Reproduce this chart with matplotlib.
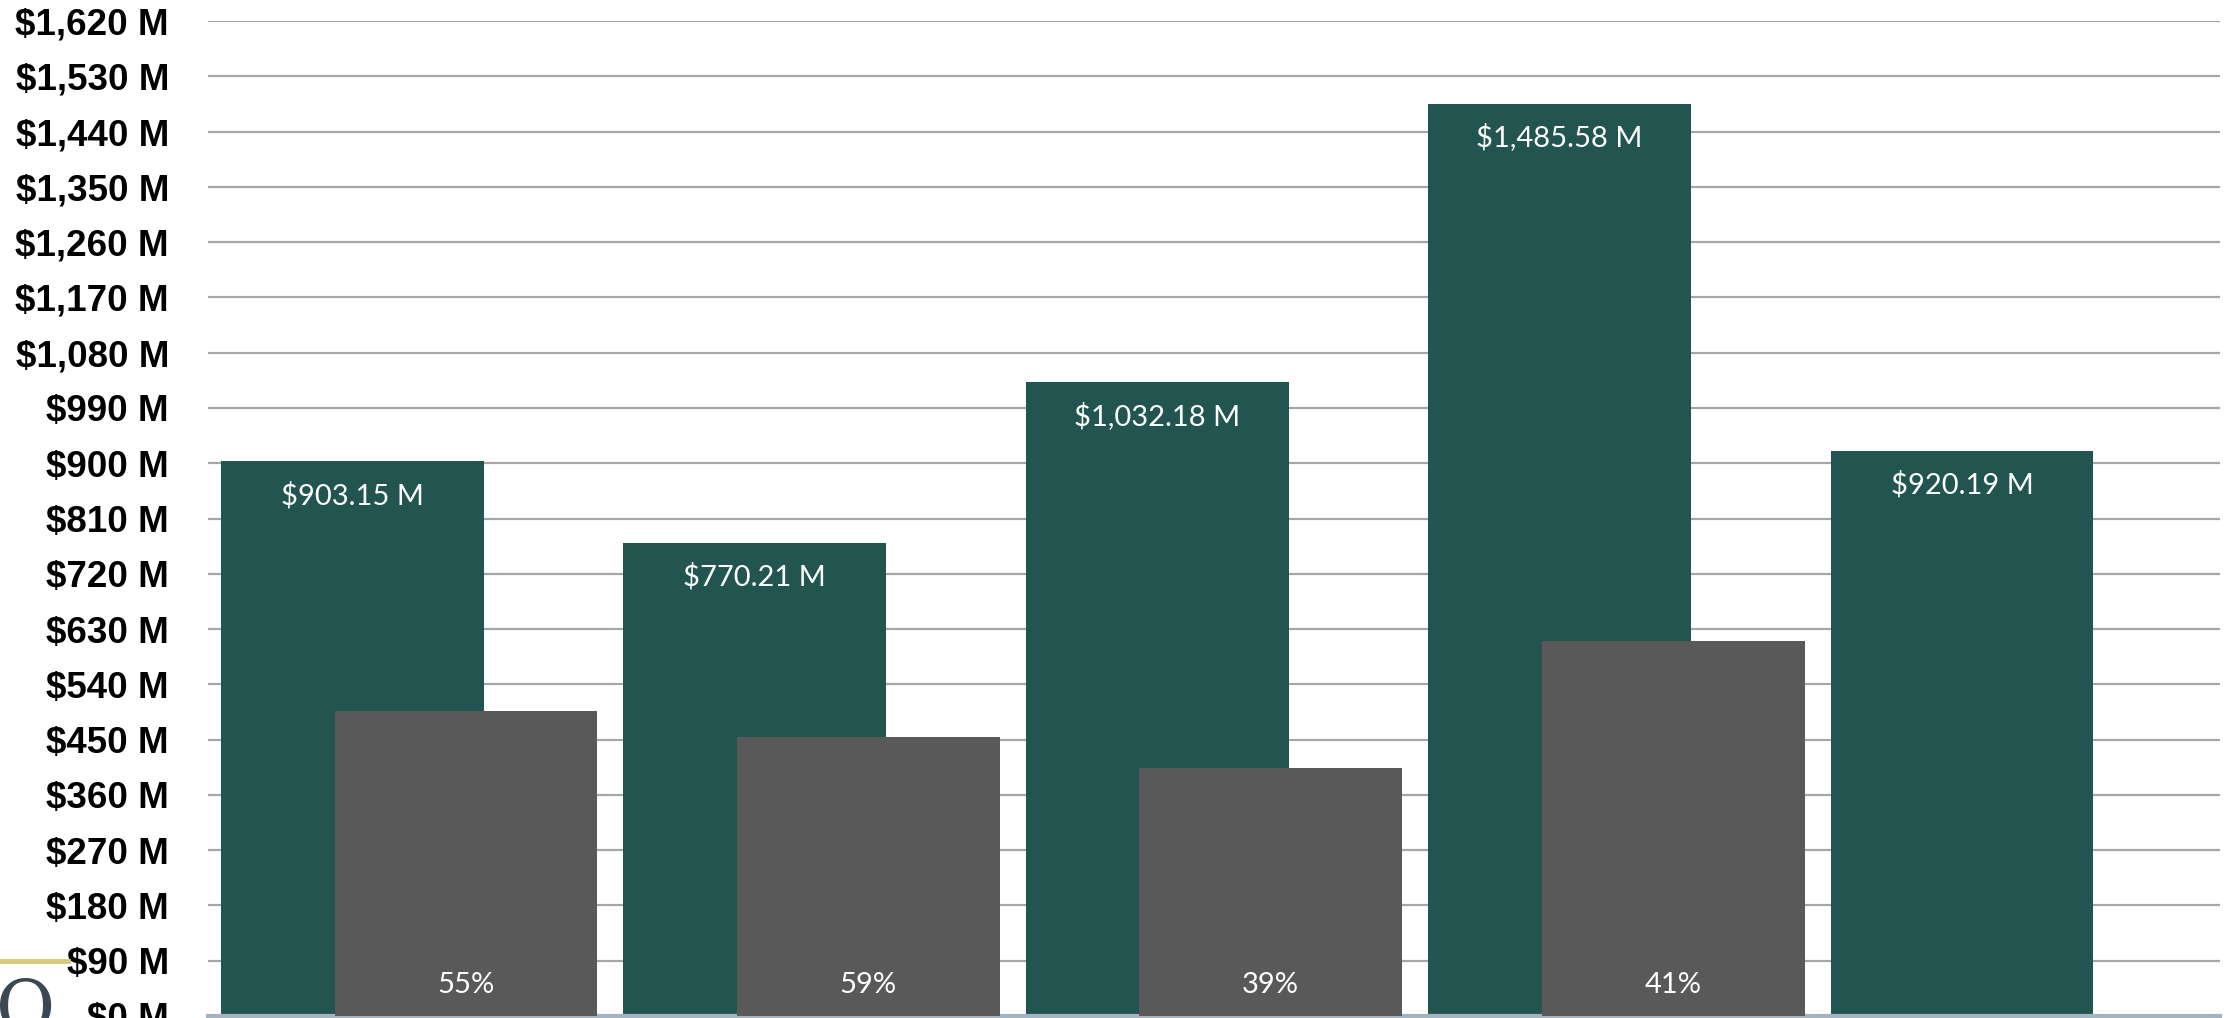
import numpy as np
import matplotlib
matplotlib.use("Agg")
import matplotlib.pyplot as plt
from matplotlib.lines import Line2D
from matplotlib.ticker import MultipleLocator, FuncFormatter

# data
categories = ["A", "B", "C", "D", "E"]
totals = [903.15, 770.21, 1032.18, 1485.58, 920.19]
total_labels = ["$903.15 M", "$770.21 M", "$1,032.18 M", "$1,485.58 M", "$920.19 M"]
shares = [497, 454, 403, 610]
share_labels = ["55%", "59%", "39%", "41%"]

GREEN = "#22554F"
GRAY = "#595959"
LABEL_FONT = ["Lato", "DejaVu Sans"]

fig = plt.figure(figsize=(22.24, 10.18), dpi=100)
ax = fig.add_axes([208 / 2224, 2 / 1018, 2012 / 2224, 995 / 1018])

x = np.arange(len(categories))
w = 0.653
off = 0.141

ax.bar(x - off, totals, width=w, color=GREEN, zorder=2)
ax.bar(x[:len(shares)] + off, shares, width=w, color=GRAY, zorder=3)

for xi, v, lab in zip(x, totals, total_labels):
    ax.annotate(lab, (xi - off, v), xytext=(0, -34), textcoords="offset pixels",
                ha="center", va="center", color="white", fontsize=21,
                family=LABEL_FONT, zorder=4)
for xi, lab in zip(x[:len(shares)], share_labels):
    ax.annotate(lab, (xi + off, 0), xytext=(0, 31), textcoords="offset pixels",
                ha="center", va="center", color="white", fontsize=21,
                family=LABEL_FONT, zorder=4)

ax.set_xlim(-0.5, 4.5)
ax.set_ylim(0, 1620)
ax.yaxis.set_major_locator(MultipleLocator(90))
ax.yaxis.set_major_formatter(FuncFormatter(lambda v, p: f"${v:,.0f} M"))
ax.tick_params(axis="y", length=0, pad=28, labelsize=26.5)
for t in ax.get_yticklabels():
    t.set_fontweight("bold")
    t.set_family("Liberation Sans")
ax.set_xticks([])

ax.grid(axis="y", color="#A6A6A6", linewidth=1.6, zorder=0)
ax.set_axisbelow(True)
for s in ["top", "right", "left"]:
    ax.spines[s].set_visible(False)
ax.spines["bottom"].set_color("#A3B3BF")
ax.spines["bottom"].set_linewidth(3)

# bits of the slide logo peeking in at bottom left
fig.add_artist(Line2D([0, 68 / 2224], [1 - 961 / 1018] * 2, color="#D8C97A",
                      linewidth=3.5, transform=fig.transFigure))
fig.text(-4 / 2224, -30 / 1018, "O", family="DejaVu Serif", fontsize=52,
         color="#3B4753", ha="left", va="bottom")

fig.savefig("out.png", dpi=100)
